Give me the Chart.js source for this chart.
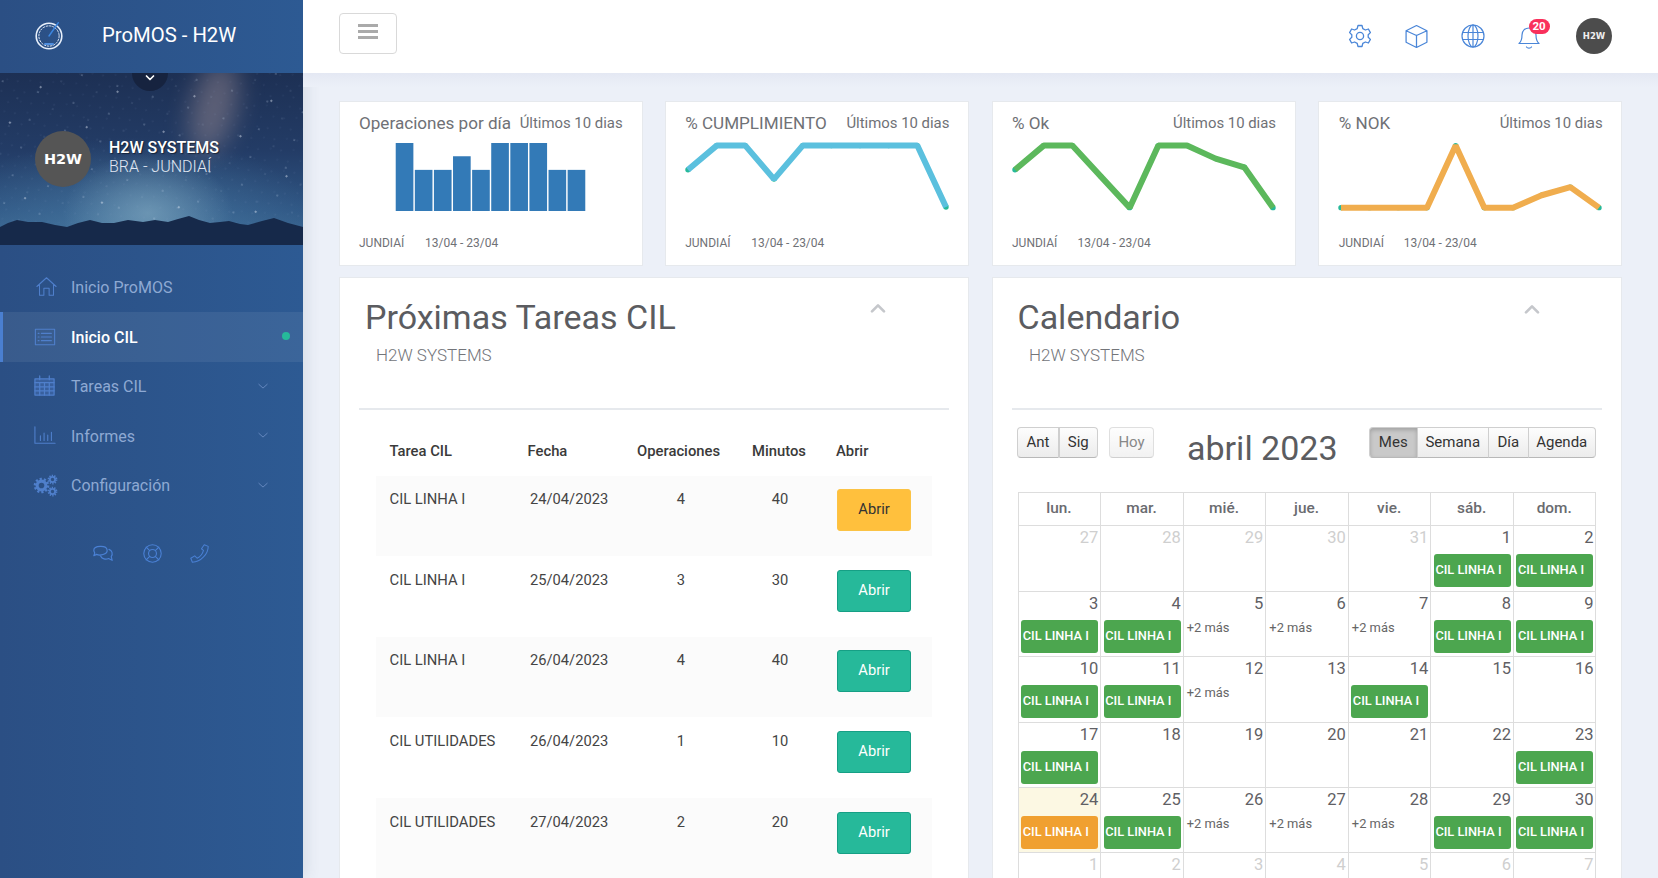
<!DOCTYPE html>
<html lang="es">
<head>
<meta charset="utf-8">
<title>ProMOS - H2W</title>
<script src="https://cdn.jsdelivr.net/npm/chart.js@4"></script>
<style>
html, body { margin: 0; padding: 0; }
body { width: 1658px; height: 878px; overflow: hidden; background: #ecf0f8; font-family: Roboto, sans-serif; }
#page { position: relative; width: 1658px; height: 878px; overflow: hidden; }
.box { position: absolute; box-sizing: border-box; }
.txt { position: absolute; white-space: nowrap; line-height: 1; }
.card { background: #fff; border: 1px solid #e6e9ed; }
canvas { position: absolute; display: block; }
svg { position: absolute; overflow: visible; fill: none; }
.fcbtn { background: linear-gradient(#fdfdfd, #ececec); border: 1px solid #cfcfcf; border-bottom-color: #b8b8b8; }
</style>
</head>
<body>
<div id="page"></div>
<script>
const dayLabels = ["13/04", "14/04", "15/04", "16/04", "17/04", "18/04", "19/04", "20/04", "21/04", "23/04"];
const opsPerDay = [5, 3, 3, 4, 3, 5, 5, 5, 3, 3];
const cumplimiento = [61, 100, 100, 46, 100, 100, 100, 100, 100, 1];
const okPercent = [61, 100, 100, 50, 0, 100, 100, 79, 65, 0];
const nokPercent = [0, 0, 0, 0, 100, 0, 0, 20, 33, 0];

const taskNames = ["CIL LINHA I", "CIL LINHA I", "CIL LINHA I", "CIL UTILIDADES", "CIL UTILIDADES"];
const taskDates = ["24/04/2023", "25/04/2023", "26/04/2023", "26/04/2023", "27/04/2023"];
const taskOps = ["4", "3", "4", "1", "2"];
const taskMinutes = ["40", "30", "40", "10", "20"];

const weekDays = ["lun.", "mar.", "mié.", "jue.", "vie.", "sáb.", "dom."];
const calendarDays = [
    [27, 28, 29, 30, 31, 1, 2],
    [3, 4, 5, 6, 7, 8, 9],
    [10, 11, 12, 13, 14, 15, 16],
    [17, 18, 19, 20, 21, 22, 23],
    [24, 25, 26, 27, 28, 29, 30],
    [1, 2, 3, 4, 5, 6, 7]
];
// e = event, m = "+2 más", t = today's event, o = other month
const calendarMarks = [
    ["o", "o", "o", "o", "o", "e", "e"],
    ["e", "e", "m", "m", "m", "e", "e"],
    ["e", "e", "m", "", "e", "", ""],
    ["e", "", "", "", "", "", "e"],
    ["t", "e", "m", "m", "m", "e", "e"],
    ["o", "o", "o", "o", "o", "o", "o"]
];
const menuItems = ["Inicio ProMOS", "Inicio CIL", "Tareas CIL", "Informes", "Configuración"];

const page = document.getElementById("page");

function box(x, y, w, h, css, cls) {
    let el = document.createElement("div");
    el.className = "box " + (cls || "");
    el.style.cssText = `left:${x}px;top:${y}px;width:${w}px;height:${h}px;${css || ""}`;
    page.appendChild(el);
    return el;
}

// y is the text baseline, align l / c / r anchors x
function put(text, x, y, size, color, weight, align, extra) {
    let el = document.createElement("div");
    el.className = "txt";
    el.textContent = text;
    let shift = align == "c" ? "transform:translateX(-50%);" : align == "r" ? "transform:translateX(-100%);" : "";
    el.style.cssText = `left:${x}px;top:${y - 0.84 * size}px;font-size:${size}px;color:${color};font-weight:${weight || 400};${shift}${extra || ""}`;
    page.appendChild(el);
    return el;
}

function icon(cx, cy, size, color, body, sw) {
    let ns = "http://www.w3.org/2000/svg";
    let s = document.createElementNS(ns, "svg");
    s.setAttribute("viewBox", "0 0 24 24");
    s.setAttribute("width", size);
    s.setAttribute("height", size);
    s.style.cssText = `left:${cx - size / 2}px;top:${cy - size / 2}px;stroke:${color};stroke-width:${sw || 1.2};stroke-linecap:round;stroke-linejoin:round;`;
    s.innerHTML = body;
    page.appendChild(s);
    return s;
}

/* ---------- sidebar ---------- */
box(0, 0, 303, 878, "background:linear-gradient(90deg,#2b4f84,#2d5a93);box-shadow:3px 0 14px rgba(60,70,100,.12);");

let hero = box(0, 73, 303, 172, `overflow:hidden;background:
    radial-gradient(85px 60px at 148px 140px,rgba(125,165,190,.7),transparent),
    radial-gradient(200px 95px at 130px 160px,rgba(75,125,165,.7),transparent),
    linear-gradient(#1d3054,#233c66 45%,#2f5684 80%,#3c6a94);`);
hero.innerHTML = `<svg width="303" height="172" viewBox="0 0 303 172" style="left:0;top:0">
    <defs>
      <filter id="blur" x="-100%" y="-100%" width="300%" height="300%"><feGaussianBlur stdDeviation="12"/></filter>
      <pattern id="s1" width="37" height="29" patternUnits="userSpaceOnUse" patternTransform="rotate(17)"><circle cx="5" cy="7" r=".55" fill="#c8d6ea"/><circle cx="24" cy="19" r=".4" fill="#a9bcd8"/></pattern>
      <pattern id="s2" width="19" height="13" patternUnits="userSpaceOnUse" patternTransform="rotate(-31)"><circle cx="11" cy="3" r=".35" fill="#8ea6c8"/><circle cx="3" cy="9" r=".3" fill="#7f98bd"/></pattern>
      <pattern id="s3" width="61" height="47" patternUnits="userSpaceOnUse" patternTransform="rotate(41)"><circle cx="40" cy="31" r=".8" fill="#e6edf8"/></pattern>
    </defs>
    <ellipse cx="214" cy="34" rx="22" ry="48" transform="rotate(14 214 34)" fill="#9a8a92" opacity=".5" filter="url(#blur)"/>
    <rect width="303" height="150" fill="url(#s2)"/>
    <rect width="303" height="150" fill="url(#s1)"/>
    <rect width="303" height="150" fill="url(#s3)"/>
    <path d="M0 154 L8 150 L17 147 L28 149 L42 149 L55 152 L67 154 L78 150 L90 147 L102 150 L114 150 L128 147 L143 149 L155 147 L168 149 L178 146 L189 143 L199 147 L210 150 L220 149 L229 148 L240 151 L248 152 L262 148 L274 145 L288 150 L303 154 V172 H0 Z" fill="#16294a"/>
  </svg>`;

box(132, 55, 36, 36, "border-radius:50%;background:#16233f;clip-path:inset(18px 0 0 0);");
icon(150, 78, 12, "#fff", '<path d="M5 8 L12 15 L19 8"/>', 3.4);

icon(49, 36, 32, "#e8f0fb", '<circle cx="12" cy="12" r="9.6" stroke-width="1.2"/><circle cx="12" cy="12" r="7.6" stroke-width=".7" stroke-dasharray="1.2 1.2"/><path d="M12 12 L19 2" stroke="#3c86e0" stroke-width="1.1"/><path d="M9 18 H15" stroke="#4f8fe0" stroke-width="1.4"/>');
put("ProMOS - H2W", 102, 41.7, 20.3, "#fff");

box(35, 131, 56, 56, "border-radius:50%;background:#555;");
put("H2W", 63, 164, 14.5, "#fff", 700, "c", "font-family:'DejaVu Sans',sans-serif;");
put("H2W SYSTEMS", 109, 153, 16, "#fff", 500, "l", "text-shadow:1px 1px 1px rgba(0,0,0,.5);");
put("BRA - JUNDIAÍ", 109, 172, 16, "#e0e7f2", 300);

/* menu */
box(0, 312, 303, 50, "background:rgba(255,255,255,.07);");
box(0, 312, 3, 50, "background:#4a7fd0;");
const menuBase = [293.5, 343.5, 392.3, 442.5, 491.5];
menuItems.forEach((name, i) => {
    put(name, 71, menuBase[i], 16, i == 1 ? "#fff" : "#8ea9d3", i == 1 ? 500 : 400);
});
const menuIcon = "#4f7fcb";
icon(46, 286.5, 21, menuIcon, '<path d="M1 12 L12 2 L23 12 M4 10 V22 H9 V14 H15 V22 H20 V10"/>', 1.2);
icon(45, 336.5, 22, menuIcon, '<rect x="1.5" y="3.5" width="21" height="17"/><path d="M8 8 H19 M8 12 H19 M8 16 H19 M4.5 8 H5.5 M4.5 12 H5.5 M4.5 16 H5.5"/>', 1.2);
icon(44.5, 385, 23, menuIcon, '<rect x="2" y="5" width="20" height="17" fill="#4f7fcb" fill-opacity=".35"/><path d="M2 9 H22 M2 13.5 H22 M2 17.5 H22 M7 9 V22 M12 9 V22 M17 9 V22 M7 2 V6 M17 2 V6" />', 1.3);
icon(45, 435, 22, menuIcon, '<path d="M1 3 V21 H23 M7 18 V13 M11 18 V10 M15 18 V12 M19 18 V9"/>', 1.2);
icon(41, 485, 15, menuIcon, '<circle cx="12" cy="12" r="7" stroke-width="5"/><circle cx="12" cy="12" r="10.5" stroke-width="4" stroke-dasharray="3.5 3.1" stroke-linecap="butt"/>');
icon(52.5, 479, 9, menuIcon, '<circle cx="12" cy="12" r="7" stroke-width="5"/><circle cx="12" cy="12" r="10.5" stroke-width="5" stroke-dasharray="3.5 3.1" stroke-linecap="butt"/>');
icon(52.5, 491, 9, menuIcon, '<circle cx="12" cy="12" r="7" stroke-width="5"/><circle cx="12" cy="12" r="10.5" stroke-width="5" stroke-dasharray="3.5 3.1" stroke-linecap="butt"/>');
box(282, 332, 8, 8, "border-radius:50%;background:#26b99a;");
[386, 435, 485].forEach(y => icon(263, y, 10, "#6f90c6", '<path d="M2 8 L12 17 L22 8"/>', 2));
icon(103, 553, 22, "#4a80d4", '<path d="M2 9 C2 4 16 3 16.5 9 C17 14 8 15 5 13.5 L2 15 L3 12 C2.5 11 2 10 2 9 Z M18.5 8 C22 9 23 13 21 16 L22 20 L18 18 C15 19.5 11 18.5 9.5 15.5"/>', 1.3);
icon(152, 553, 19, "#4a80d4", '<circle cx="12" cy="12" r="11"/><circle cx="12" cy="12" r="5"/><path d="M4 4 L8.5 8.5 M20 4 L15.5 8.5 M4 20 L8.5 15.5 M20 20 L15.5 15.5"/>', 1.4);
icon(199, 553, 19, "#4a80d4", '<path d="M18 1 L23 3 C23 12 14 23 3 23 L1 18 L6 15 L9 18 C13 16 16 12 17 8 L14.5 6 Z"/>', 1.3);

/* ---------- top bar ---------- */
box(303, 0, 1355, 73, "background:#fff;");
box(303, 73, 1355, 14, "background:linear-gradient(#e4e8f3,#ecf0f8);");
box(339, 13, 57.5, 41, "background:#fff;border:1px solid #d9d9d9;border-radius:4px;");
[25, 31, 37].forEach(y => box(358, y - 1, 20, 2.6, "background:#aaa;"));
const topIcon = "#4a86d8";
icon(1360, 36, 24, topIcon, '<circle cx="12" cy="12" r="3.6"/><path d="M10 1.5 H14 L14.8 4.6 L17.4 6 L20.4 5 L22.4 8.6 L20.2 10.8 V13.2 L22.4 15.4 L20.4 19 L17.4 18 L14.8 19.4 L14 22.5 H10 L9.2 19.4 L6.6 18 L3.6 19 L1.6 15.4 L3.8 13.2 V10.8 L1.6 8.6 L3.6 5 L6.6 6 L9.2 4.6 Z"/>', 1.3);
icon(1416.3, 36, 25, topIcon, '<path d="M12 1.5 L22 6.5 V17.5 L12 22.5 L2 17.5 V6.5 Z M2 6.5 L12 11 L22 6.5 M12 11 V22.5"/>', 1.2);
icon(1472.7, 36, 24, topIcon, '<circle cx="12" cy="12" r="11"/><ellipse cx="12" cy="12" rx="5" ry="11"/><path d="M1.5 8.5 H22.5 M1.5 15.5 H22.5 M12 1 V23"/>', 1.2);
icon(1529, 37, 24, topIcon, '<path d="M2 18.5 C5 16 5 13 5 10 C5 5.5 8 3 12 3 C16 3 19 5.5 19 10 C19 13 19 16 22 18.5 Z M9.5 22 C10.5 23.5 13.5 23.5 14.5 22"/>', 1.2);
box(1528.5, 19, 21, 15, "background:#f9305c;border-radius:8px;");
put("20", 1539, 30.6, 11.5, "#fff", 700, "c");
box(1576, 18, 36, 36, "border-radius:50%;background:#4c4c4c;");
put("H2W", 1594, 39, 8.5, "#eee", 700, "c", "font-family:'DejaVu Sans',sans-serif;");

/* ---------- KPI cards ---------- */
const cardX = [339, 665, 992, 1318];
const cardW = [304, 304, 304, 304];
const cardTextX = [359, 685.2, 1012, 1338.7];
const cardDateX = [425, 751.2, 1077.5, 1403.7];
const cardRangeEnd = [622.6, 949.4, 1276, 1602.6];
const cardTitles = ["Operaciones por día", "% CUMPLIMIENTO", "% Ok", "% NOK"];
const grey = "#6f7176";
cardTitles.forEach((title, i) => {
    box(cardX[i], 100.5, cardW[i], 165, "", "card");
    put(title, cardTextX[i], 129, 17.1, grey);
    put("Últimos 10 dias", cardRangeEnd[i], 128.4, 14.9, grey, 400, "r");
    put("JUNDIAÍ", cardTextX[i], 247, 12, grey);
    put("13/04 - 23/04", cardDateX[i], 247, 12, grey);
});

function canvasAt(x, y, w, h) {
    let c = document.createElement("canvas");
    c.style.cssText = `left:${x}px;top:${y}px;width:${w}px;height:${h}px;`;
    c.width = w;
    c.height = h;
    page.appendChild(c);
    return c;
}

const baseOptions = {
    responsive: false,
    animation: false,
    devicePixelRatio: 1,
    plugins: { legend: { display: false }, tooltip: { enabled: false } }
};

new Chart(canvasAt(395, 143, 191, 68), {
    type: "bar",
    data: {
        labels: dayLabels,
        datasets: [{ data: opsPerDay, backgroundColor: "#337ab7", barThickness: 17 }]
    },
    options: {
        ...baseOptions,
        scales: {
            x: { display: false },
            y: { display: false, min: 0, max: 5 }
        }
    }
});

function sparkline(x, values, color) {
    new Chart(canvasAt(x, 140, 266, 72), {
        type: "line",
        data: {
            labels: dayLabels,
            datasets: [
                { data: values, borderColor: color, borderWidth: 6, borderJoinStyle: "bevel", tension: 0, pointRadius: 0, order: 1 },
                { data: values, showLine: false, pointRadius: 2.7, pointBackgroundColor: "#26b99a", pointBorderWidth: 0, order: 2 }
            ]
        },
        options: {
            ...baseOptions,
            layout: { autoPadding: false, padding: { left: 4, right: 4 } },
            scales: {
                x: { display: false },
                y: { display: false, min: -7, max: 109 }
            }
        }
    });
}
sparkline(684, cumplimiento, "#5bc0de");
sparkline(1010.5, okPercent, "#5cb85c");
sparkline(1337, nokPercent, "#f0ad4e");

/* ---------- tasks panel ---------- */
const titleColor = "#5b5c60";
box(339, 277, 630, 640, "", "card");
put("Próximas Tareas CIL", 365, 329, 34, titleColor);
put("H2W SYSTEMS", 376, 361, 17, "#73757a", 300);
box(359, 408, 590, 2, "background:#e6e9ed;");
icon(878, 308, 16, "#c5c7cb", '<path d="M3 17 L12 8 L21 17"/>', 4);

const headY = 456, headColor = "#3a3a3a";
put("Tarea CIL", 389.5, headY, 14.8, headColor, 500);
put("Fecha", 527.5, headY, 14.8, headColor, 500);
put("Operaciones", 637, headY, 14.8, headColor, 500);
put("Minutos", 752, headY, 14.8, headColor, 500);
put("Abrir", 836, headY, 14.8, headColor, 500);

const rowTop = [476, 556, 636.6, 717.5, 797.5];
const rowH = [80, 80.6, 80.9, 80, 90];
const rowBase = [504, 585, 665, 746, 827];
const btnTop = [489, 570, 650, 731, 812];
taskNames.forEach((name, i) => {
    if (i % 2 == 0) box(376, rowTop[i], 556, rowH[i], "background:#fbfbfb;");
    put(name, 389.5, rowBase[i], 14.8, "#444");
    put(taskDates[i], 530, rowBase[i], 14.7, "#444");
    put(taskOps[i], 681, rowBase[i], 14.7, "#444", 400, "c");
    put(taskMinutes[i], 780, rowBase[i], 14.7, "#444", 400, "c");
    let first = i == 0;
    box(837, btnTop[i], 74, 42, `border-radius:3px;background:${first ? "#ffc03d" : "#26b99a"};border:1px solid ${first ? "#fbc345" : "#169f85"};`);
    put("Abrir", 874, btnTop[i] + 25.5, 14.7, first ? "#333" : "#fff", 400, "c");
});

/* ---------- calendar panel ---------- */
box(992, 277, 630, 640, "", "card");
put("Calendario", 1017.5, 329, 34, titleColor);
put("H2W SYSTEMS", 1029, 361.7, 17, "#73757a", 300);
box(1012, 408, 590, 2, "background:#e6e9ed;");
icon(1531.5, 309, 16, "#c5c7cb", '<path d="M3 17 L12 8 L21 17"/>', 4);

function toolbar(label, x0, x1, radius, css, color) {
    let b = box(x0, 427, x1 - x0, 31, `border-radius:${radius};${css || ""}`, "fcbtn");
    put(label, (x0 + x1) / 2, 447.5, 15, color || "#333", 400, "c");
    return b;
}
toolbar("Ant", 1017, 1059, "4px 0 0 4px");
toolbar("Sig", 1058.5, 1098, "0 4px 4px 0");
toolbar("Hoy", 1109, 1154, "4px", "opacity:.65;", "#888");
toolbar("Mes", 1369, 1417.5, "4px 0 0 4px", "background:#c9c9c9;box-shadow:inset 0 2px 4px rgba(0,0,0,.2);");
toolbar("Semana", 1417, 1488.5, "0");
toolbar("Día", 1488, 1528.5, "0");
toolbar("Agenda", 1528, 1595.5, "0 4px 4px 0");
put("abril 2023", 1187, 460, 34, titleColor);

const gridLeft = 1017.7, colW = 82.54, lineColor = "#dddddd";
const rowLines = [525, 591, 656, 722, 787, 852];
box(gridLeft, 492, colW * 7 + 1, 1, `background:${lineColor};`);
weekDays.forEach((d, c) => {
    put(d, gridLeft + colW * c + colW / 2, 514, 15.4, "#6a6b6f", 500, "c");
});
calendarDays.forEach((week, r) => {
    let top = rowLines[r];
    box(gridLeft, top, colW * 7 + 1, 1, `background:${lineColor};`);
    week.forEach((day, c) => {
        let x = gridLeft + colW * c;
        let mark = calendarMarks[r][c];
        if (mark == "t") box(x + 1, top + 1, colW - 1, 64.5, "background:#fcf8e3;");
        put(String(day), x + colW - 2, top + 19.2, 16.5, mark == "o" ? "#cfcfcf" : "#5f6064", 400, "r");
        if (mark == "e" || mark == "t") {
            box(x + 3.3, top + 28.7, 77, 33.5, `border-radius:3px;background:${mark == "t" ? "#f0a030" : "#4ca64f"};`);
            put("CIL LINHA I", x + 5, top + 49.8, 12.8, "#fff", 500, "l");
        }
        if (mark == "m") put("+2 más", x + 4, top + 42.2, 12.9, "#666");
    });
});
for (let c = 0; c <= 7; c++) {
    box(gridLeft + colW * c, 492, 1, 400, `background:${lineColor};`);
}
</script>
</body>
</html>
